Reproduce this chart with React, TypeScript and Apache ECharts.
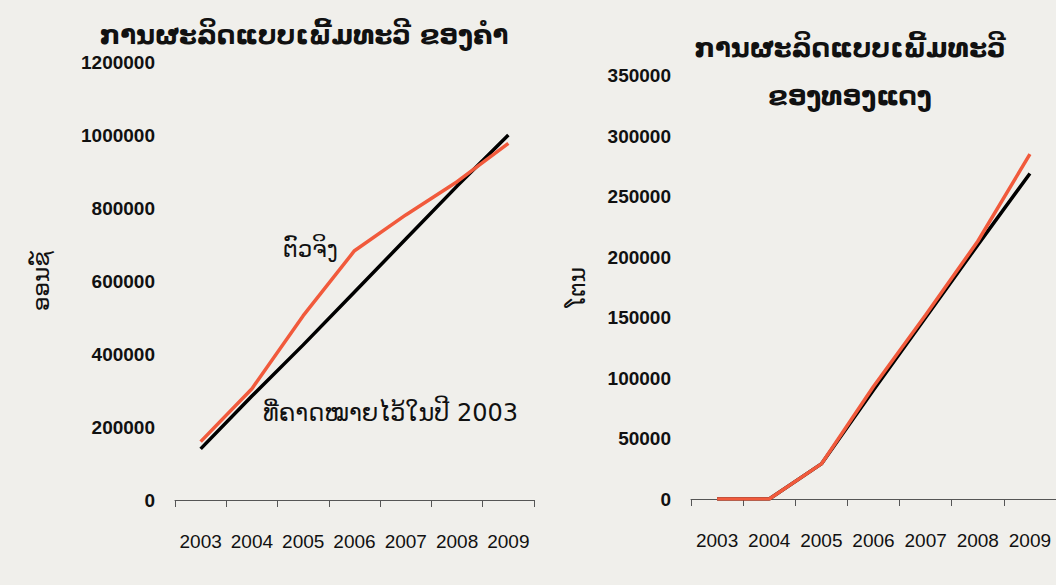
import React, { useEffect, useRef } from "react";
import * as echarts from "echarts";

const years = ["2003", "2004", "2005", "2006", "2007", "2008", "2009"];
// Gold (ounces)
const goldActual = [160000, 305000, 505000, 683000, 781000, 872000, 977000];
const goldTarget = [140000, 285000, 425000, 570000, 715000, 860000, 1000000];
// Copper (tonnes)
const copperActual = [0, 0, 29000, 93000, 152000, 213000, 285000];
const copperTarget = [0, 0, 29000, 90000, 150000, 210000, 269000];

const leftTitle = "ການຜະລິດແບບເພີ້ມທະວີ ຂອງຄຳ";
const rightTitle = "ການຜະລິດແບບເພີ້ມທະວີ\nຂອງທອງແດງ";
const leftUnit = "ອອນຊ໌";
const rightUnit = "ໂຕນ";
const actualLabel = "ຕົວຈິງ";
const targetLabel = "ທີ່ຄາດໝາຍໄວ້ໃນປີ 2003";

const RED = "#f15a3c";
const BG = "#f0efeb";
const NUM_FONT = "'Liberation Sans', Arial, sans-serif";
const LAO_FONT = "'DejaVu Sans', sans-serif";

export default function App() {
  const ref = useRef<HTMLDivElement>(null);
  useEffect(() => {
    if (!ref.current) return;
    const chart = echarts.init(ref.current, undefined, { renderer: "svg" });
    const xAxisCommon = {
      type: "category" as const,
      data: years,
      boundaryGap: true,
      axisLine: { show: true, lineStyle: { color: "#555", width: 1 } },
      axisTick: { show: true, length: 7, lineStyle: { color: "#555" } },
      axisLabel: { color: "#111", fontSize: 19, fontFamily: NUM_FONT, margin: 32, interval: 0 },
      splitLine: { show: false },
    };
    const yAxisCommon = {
      type: "value" as const,
      min: 0,
      axisLine: { show: false },
      axisTick: { show: false },
      splitLine: { show: false },
      nameLocation: "middle" as const,
      nameRotate: 90,
      nameTextStyle: { color: "#111", fontSize: 23, fontFamily: LAO_FONT },
      axisLabel: {
        color: "#111",
        fontSize: 19,
        fontWeight: "bold" as const,
        fontFamily: NUM_FONT,
        margin: 20,
        formatter: (v: number) => String(v),
      },
    };
    chart.setOption({
      animation: false,
      backgroundColor: BG,
      title: [
        {
          text: leftTitle,
          left: 299,
          top: 17,
          textAlign: "center",
          textStyle: { fontSize: 26, fontWeight: "bold", color: "#111", fontFamily: LAO_FONT },
        },
        {
          text: rightTitle,
          left: 845,
          top: 19,
          textAlign: "center",
          textStyle: { fontSize: 26, fontWeight: "bold", color: "#111", fontFamily: LAO_FONT, lineHeight: 48 },
        },
      ],
      grid: [
        { left: 175, top: 62, width: 359, height: 438 },
        { left: 691, top: 75.5, width: 374.5, height: 423.5 },
      ],
      xAxis: [
        { ...xAxisCommon, gridIndex: 0 },
        { ...xAxisCommon, gridIndex: 1 },
      ],
      yAxis: [
        { ...yAxisCommon, gridIndex: 0, max: 1200000, interval: 200000, name: leftUnit, nameGap: 123 },
        { ...yAxisCommon, gridIndex: 1, max: 350000, interval: 50000, name: rightUnit, nameGap: 103 },
      ],
      series: [
        {
          type: "line", xAxisIndex: 0, yAxisIndex: 0, data: goldTarget, symbol: "none",
          lineStyle: { color: "#000", width: 3.5 }, z: 2,
        },
        {
          type: "line", xAxisIndex: 0, yAxisIndex: 0, data: goldActual, symbol: "none",
          lineStyle: { color: RED, width: 3.5 }, z: 3,
        },
        {
          type: "line", xAxisIndex: 1, yAxisIndex: 1, data: copperTarget, symbol: "none",
          lineStyle: { color: "#000", width: 3.5 }, z: 2,
        },
        {
          type: "line", xAxisIndex: 1, yAxisIndex: 1, data: copperActual, symbol: "none",
          lineStyle: { color: RED, width: 3.5 }, z: 3,
        },
      ],
      graphic: [
        {
          type: "text", left: 283, top: 237,
          style: { text: actualLabel, fontSize: 23, fontFamily: LAO_FONT, fill: "#111" },
        },
        {
          type: "text", left: 263, top: 401,
          style: { text: targetLabel, fontSize: 24, fontFamily: LAO_FONT, fill: "#111" },
        },
      ],
    });
    return () => chart.dispose();
  }, []);
  return (
    <div
      ref={ref}
      style={{ position: "fixed", left: 0, top: 0, width: 1056, height: 585 }}
    />
  );
}
